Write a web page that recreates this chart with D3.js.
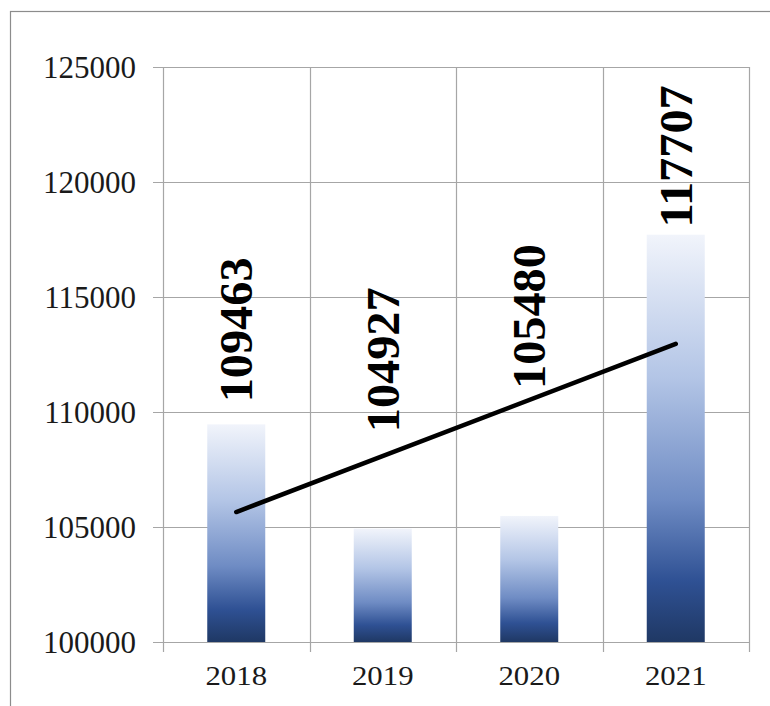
<!DOCTYPE html>
<html>
<head>
<meta charset="utf-8">
<script src="https://cdn.jsdelivr.net/npm/d3@7"></script>
<style>
  html, body { margin: 0; padding: 0; background: #fff; }
  svg { display: block; }
</style>
</head>
<body>
<svg id="chart" width="770" height="706"></svg>
<script>
const categories = ["2018", "2019", "2020", "2021"];
const values = [109463, 104927, 105480, 117707];
const yTicks = [100000, 105000, 110000, 115000, 120000, 125000];
// trend line values at first and last category
const trendValues = [105650, 112960];
// bottom end of each rotated value label, in data units
const labelBase = [110420, 109120, 111000, 118020];

const svg = d3.select("#chart");
const margin = { left: 163, right: 21, top: 67, bottom: 64 };
const W = 770, H = 706;

// outer frame
svg.append("rect")
  .attr("x", 10.5).attr("y", 11.5)
  .attr("width", 800).attr("height", 800)
  .attr("fill", "none").attr("stroke", "#8c8c8c").attr("stroke-width", 1.2);

const x = d3.scaleBand().domain(categories)
  .range([margin.left, W - margin.right]).paddingInner(0).paddingOuter(0);
const y = d3.scaleLinear().domain([100000, 125000])
  .range([H - margin.bottom, margin.top]);

const grid = "#a6a6a6";

// horizontal gridlines
svg.append("g").selectAll("line").data(yTicks).join("line")
  .attr("x1", margin.left - 10).attr("x2", W - margin.right)
  .attr("y1", d => Math.round(y(d)) + 0.5).attr("y2", d => Math.round(y(d)) + 0.5)
  .attr("stroke", grid).attr("stroke-width", 1.2);

// vertical gridlines (category boundaries)
const bounds = categories.map(c => x(c)).concat([x.range()[1]]);
svg.append("g").selectAll("line").data(bounds).join("line")
  .attr("x1", d => Math.round(d) + 0.5).attr("x2", d => Math.round(d) + 0.5)
  .attr("y1", margin.top).attr("y2", H - margin.bottom + 10)
  .attr("stroke", grid).attr("stroke-width", 1.2);

// y axis labels
svg.append("g").selectAll("text").data(yTicks).join("text")
  .attr("x", 136).attr("y", d => y(d))
  .attr("dy", "0.35em")
  .attr("text-anchor", "end")
  .attr("font-family", "'Liberation Serif', 'Times New Roman', serif")
  .attr("font-size", 31)
  .attr("fill", "#1a1a1a")
  .text(d => d);

// x axis labels
svg.append("g").selectAll("text").data(categories).join("text")
  .attr("x", d => x(d) + x.bandwidth() / 2)
  .attr("y", 685)
  .attr("text-anchor", "middle")
  .attr("font-family", "'Liberation Serif', 'Times New Roman', serif")
  .attr("font-size", 28)
  .attr("transform", d => {
    const cx = x(d) + x.bandwidth() / 2;
    return `translate(${cx},0) scale(1.1,1) translate(${-cx},0)`;
  })
  .attr("fill", "#1a1a1a")
  .text(d => d);

// gradient
const defs = svg.append("defs");
const grad = defs.append("linearGradient").attr("id", "barGrad")
  .attr("x1", 0).attr("y1", 0).attr("x2", 0).attr("y2", 1);
[[0, "#f1f4fb"], [0.35, "#b3c5e6"], [0.65, "#6f8cc4"], [0.85, "#2f5194"], [1, "#1f3864"]]
  .forEach(([o, c]) => grad.append("stop").attr("offset", o).attr("stop-color", c));

const barW = 58;
svg.append("g").selectAll("rect").data(values).join("rect")
  .attr("x", (d, i) => x(categories[i]) + x.bandwidth() / 2 - barW / 2)
  .attr("y", d => y(d))
  .attr("width", barW)
  .attr("height", d => y(100000) - y(d))
  .attr("fill", "url(#barGrad)");

// trend line
const first = categories[0], last = categories[categories.length - 1];
svg.append("line")
  .attr("x1", x(first) + x.bandwidth() / 2).attr("y1", y(trendValues[0]))
  .attr("x2", x(last) + x.bandwidth() / 2).attr("y2", y(trendValues[1]))
  .attr("stroke", "#000").attr("stroke-width", 4.5).attr("stroke-linecap", "round");

// value labels (rotated)
svg.append("g").selectAll("text").data(values).join("text")
  .attr("transform", (d, i) => `translate(${x(categories[i]) + x.bandwidth() / 2 + 16},${y(labelBase[i])}) rotate(-90) scale(1.05,1)`)
  .attr("font-family", "'Liberation Serif', 'Times New Roman', serif")
  .attr("font-weight", "bold")
  .attr("font-size", 46)
  .attr("fill", "#000")
  .text(d => d);
</script>
</body>
</html>
